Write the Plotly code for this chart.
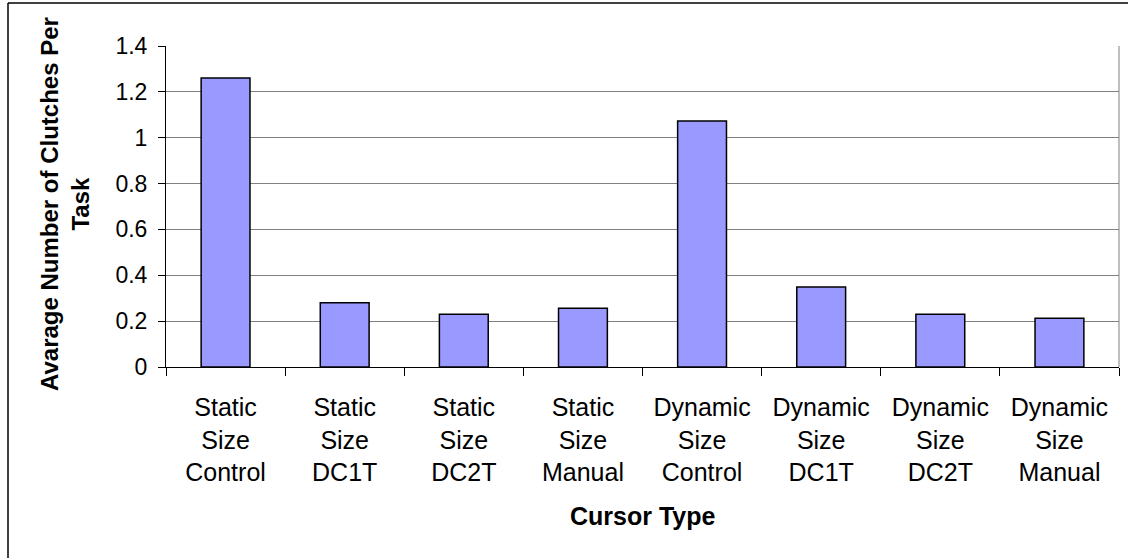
import plotly.graph_objects as go

# Average clutches per task for each cursor type
categories = [
    "Static<br>Size<br>Control", "Static<br>Size<br>DC1T", "Static<br>Size<br>DC2T",
    "Static<br>Size<br>Manual", "Dynamic<br>Size<br>Control", "Dynamic<br>Size<br>DC1T",
    "Dynamic<br>Size<br>DC2T", "Dynamic<br>Size<br>Manual",
]
avg_clutches = [1.26, 0.28, 0.23, 0.256, 1.073, 0.349, 0.23, 0.213]
y_ticks = [0, 0.2, 0.4, 0.6, 0.8, 1.0, 1.2, 1.4]
y_tick_text = ["0", "0.2", "0.4", "0.6", "0.8", "1", "1.2", "1.4"]

W, H = 1128, 558
L, R, T, B = 166, 9, 46, 191
pw, ph = W - L - R, H - T - B

def px_x(p):
    return (p - L) / pw

def px_y(p):
    return (H - B - p) / ph

FONT = "Liberation Sans, Arial, sans-serif"

fig = go.Figure(go.Bar(
    x=categories, y=avg_clutches,
    marker=dict(color="#9999FF", line=dict(color="#000000", width=1.5)),
))

fig.update_layout(
    width=W, height=H,
    margin=dict(l=L, r=R, t=T, b=B, pad=0),
    paper_bgcolor="white", plot_bgcolor="white",
    bargap=0.59, showlegend=False,
    font=dict(family=FONT, size=23, color="black"),
    xaxis=dict(
        type="category", tickson="boundaries", ticks="outside", ticklen=8,
        tickcolor="black", showline=True, linecolor="black", linewidth=1,
        showgrid=False, tickfont=dict(size=25), ticklabelstandoff=18,
    ),
    yaxis=dict(
        range=[0, 1.4], tickvals=y_ticks, ticktext=y_tick_text,
        ticks="outside", ticklen=7, tickcolor="black",
        showline=True, linecolor="black", linewidth=1,
        showgrid=True, gridcolor="#808080", gridwidth=1,
        zeroline=False, tickfont=dict(size=23), ticklabelstandoff=6,
    ),
    annotations=[
        dict(text="<b>Avarage Number of Clutches Per<br>Task</b>", textangle=-90,
             xref="paper", yref="paper", x=px_x(65), y=px_y(204),
             xanchor="center", yanchor="middle", showarrow=False,
             font=dict(size=24, family=FONT)),
        dict(text="<b>Cursor Type</b>",
             xref="paper", yref="paper", x=0.5, y=px_y(516),
             xanchor="center", yanchor="middle", showarrow=False,
             font=dict(size=25, family=FONT)),
    ],
    shapes=[
        # plot frame on the right side
        dict(type="line", xref="paper", yref="paper", x0=1, x1=1, y0=0, y1=1,
             line=dict(color="#808080", width=1)),
        # outer chart border
        dict(type="line", xref="paper", yref="paper", x0=px_x(8), x1=px_x(8),
             y0=px_y(3), y1=px_y(560), line=dict(color="black", width=1.5)),
        dict(type="line", xref="paper", yref="paper", x0=px_x(8), x1=px_x(1130),
             y0=px_y(3), y1=px_y(3), line=dict(color="black", width=1.5)),
    ],
)

fig.write_html("out.html")
